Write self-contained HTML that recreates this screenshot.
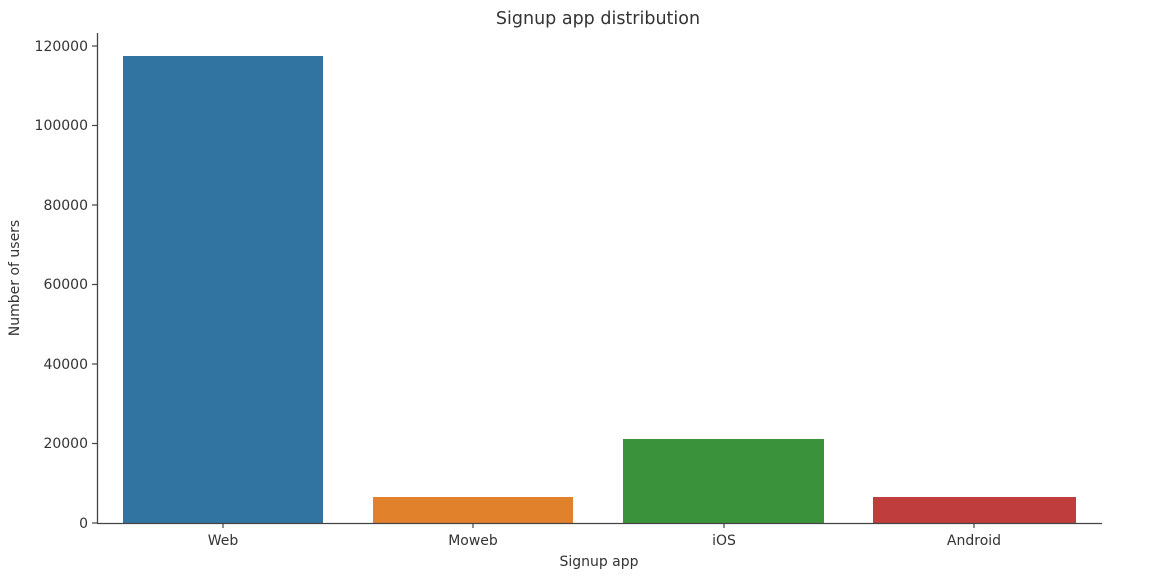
<!DOCTYPE html>
<html><head><meta charset="utf-8"><style>
html,body{margin:0;padding:0;background:#fff;width:1150px;height:580px;overflow:hidden}
svg text{font-family:"DejaVu Sans","Liberation Sans",sans-serif;fill:#333}
</style></head><body>
<svg width="1150" height="580" xmlns="http://www.w3.org/2000/svg">
<text x="598" y="24" font-size="17.5" text-anchor="middle">Signup app distribution</text>
<rect x="123" y="56" width="200" height="467" fill="#3274a1"/>
<rect x="373" y="497" width="200" height="26" fill="#e1812c"/>
<rect x="623" y="439" width="201" height="84" fill="#3a923a"/>
<rect x="873" y="497" width="203" height="26" fill="#c03d3e"/>
<line x1="97.5" y1="33" x2="97.5" y2="523" stroke="#444" stroke-width="1.3"/>
<line x1="97" y1="523.5" x2="1102" y2="523.5" stroke="#444" stroke-width="1.3"/>
<g stroke="#444" stroke-width="1.2">
<line x1="92" y1="46" x2="97" y2="46"/><line x1="92" y1="125.5" x2="97" y2="125.5"/>
<line x1="92" y1="205" x2="97" y2="205"/><line x1="92" y1="284.5" x2="97" y2="284.5"/>
<line x1="92" y1="364" x2="97" y2="364"/><line x1="92" y1="443.5" x2="97" y2="443.5"/>
<line x1="92" y1="523" x2="97" y2="523"/>
<line x1="223" y1="523" x2="223" y2="528"/><line x1="473" y1="523" x2="473" y2="528"/>
<line x1="724" y1="523" x2="724" y2="528"/><line x1="974" y1="523" x2="974" y2="528"/>
</g>
<g font-size="14" text-anchor="end">
<text x="88" y="51">120000</text><text x="88" y="130">100000</text>
<text x="88" y="210">80000</text><text x="88" y="289">60000</text>
<text x="88" y="369">40000</text><text x="88" y="448">20000</text>
<text x="88" y="528">0</text>
</g>
<g font-size="14" text-anchor="middle">
<text x="223" y="545">Web</text><text x="473" y="545">Moweb</text>
<text x="724" y="545">iOS</text><text x="974" y="545">Android</text>
<text x="599" y="566">Signup app</text>
</g>
<text font-size="14" text-anchor="middle" transform="translate(19,278) rotate(-90)">Number of users</text>
</svg>
</body></html>
